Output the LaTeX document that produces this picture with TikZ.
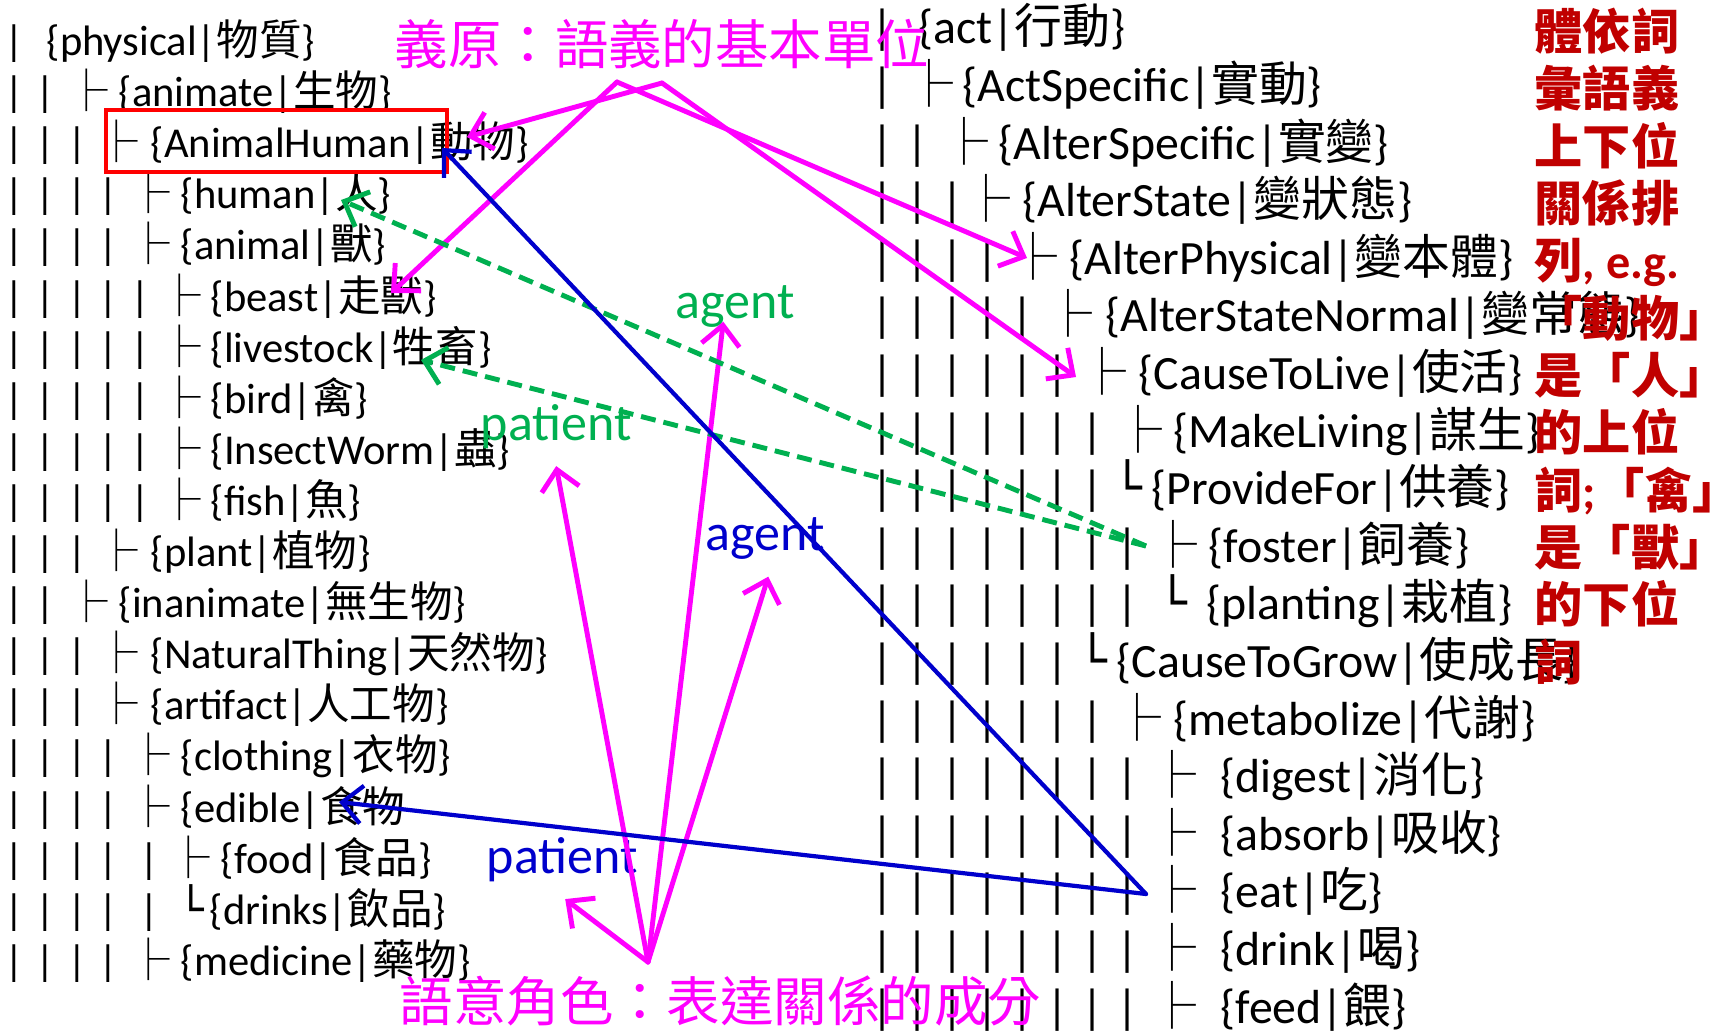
\documentclass[tikz,border=0pt]{standalone}
\usepackage{fontspec}
\setmainfont{Carlito}
\newfontfamily\cjk{Noto Sans CJK TC}
\newfontfamily\boxfont{DejaVu Sans}
\usetikzlibrary{arrows.meta,calc}
\definecolor{semmag}{HTML}{FF00FF}
\definecolor{rolegreen}{HTML}{00B050}
\definecolor{roleblue}{HTML}{0000CC}
\definecolor{notered}{HTML}{C00000}
\newcommand{\lsize}{\fontsize{12.1pt}{14pt}\selectfont}
\newcommand{\rsize}{\fontsize{13.6pt}{16pt}\selectfont}
\newcommand{\hw}[2]{\{#1|{\cjk #2}\}}
\tikzset{
  litem/.style={anchor=base west, inner sep=0pt, font=\lsize},
  ritem/.style={anchor=base west, inner sep=0pt, font=\rsize},
  lbar/.style={anchor=base, inner sep=0pt, font=\lsize},
  rbar/.style={anchor=base, inner sep=0pt, font=\rsize},
  ltee/.style={anchor=base, inner sep=0pt, font=\lsize\cjk},
  rtee/.style={anchor=base, inner sep=0pt, font=\rsize\cjk},
  lell/.style={anchor=base west, inner sep=0pt, font=\lsize\boxfont},
  rell/.style={anchor=base west, inner sep=0pt, font=\rsize\boxfont},
  roletag/.style={anchor=base west, inner sep=0pt, font=\fontsize{14.8pt}{17pt}\selectfont},
  headline/.style={anchor=base west, inner sep=0pt, text=semmag,
                   font=\fontsize{15.2pt}{18pt}\selectfont\cjk},
  semarrow/.style={draw=semmag, line width=1.4pt, line cap=round,
                   -{Straight Barb[length=2mm,width=3.8mm]}},
  bluearrow/.style={draw=roleblue, line width=1.2pt, line cap=round,
                    -{Straight Barb[length=2mm,width=3.8mm]}},
  greenarrow/.style={draw=rolegreen, line width=1.4pt, dash pattern=on 1.5mm off 0.8mm,
                     -{Straight Barb[length=2mm,width=3.8mm]}},
}
\begin{document}
\begin{tikzpicture}[x=0.01cm, y=-0.01cm]
  \useasboundingbox (0,0) rectangle (1720,1033);

  % left tree: entities
  \foreach \y/\n in {55/1,106/2,157/3,208/4,259/4,311/5,362/5,413/5,464/5,515/5,566/3,617/2,668/3,719/3,770/4,822/4,975/4}
    \foreach \k in {1,...,\n}
      \node[lbar] (lb-\y-\k) at ({14+31.5*(\k-1)},\y) {|};
  \foreach \y in {873,924}
    \foreach \x [count=\k] in {14,45.5,77,108.5,149}
      \node[lbar] (lb-\y-\k) at (\x,\y) {|};
  \foreach \y/\x in {106/87,157/117,208/149,259/149,311/180,362/180,413/180,464/180,515/180,566/117,617/87,668/117,719/117,770/149,822/149,873/189,975/149}
    \node[ltee] (lt-\y) at (\x,\y) {├};
  \node[lell] (le-924) at (178,924) {└};

  \node[litem] (physical)     at (46,55)   {\hw{physical}{物質}};
  \node[litem] (animate)      at (118,106) {\hw{animate}{生物}};
  \node[litem] (animalhuman)  at (150,157) {\hw{AnimalHuman}{動物}};
  \node[litem] (human)        at (180,208) {\hw{human}{人}};
  \node[litem] (animal)       at (180,259) {\hw{animal}{獸}};
  \node[litem] (beast)        at (210,311) {\hw{beast}{走獸}};
  \node[litem] (livestock)    at (210,362) {\hw{livestock}{牲畜}};
  \node[litem] (bird)         at (210,413) {\hw{bird}{禽}};
  \node[litem] (insectworm)   at (210,464) {\hw{InsectWorm}{蟲}};
  \node[litem] (fish)         at (210,515) {\hw{fish}{魚}};
  \node[litem] (plant)        at (150,566) {\hw{plant}{植物}};
  \node[litem] (inanimate)    at (118,617) {\hw{inanimate}{無生物}};
  \node[litem] (naturalthing) at (150,668) {\hw{NaturalThing}{天然物}};
  \node[litem] (artifact)     at (150,719) {\hw{artifact}{人工物}};
  \node[litem] (clothing)     at (180,770) {\hw{clothing}{衣物}};
  \node[litem] (edible)       at (180,822) {\{edible|{\cjk 食物}};
  \node[litem] (food)         at (220,873) {\hw{food}{食品}};
  \node[litem] (drinks)       at (209,924) {\hw{drinks}{飲品}};
  \node[litem] (medicine)     at (180,975) {\hw{medicine}{藥物}};

  % right tree: events
  \foreach \y/\n in {43/1,101/1,159/2,216/3,274/4,331/5,389/6,447/7,504/7,562/8,619/8,677/6,735/7,792/8,850/8,907/8,965/8,1023/8}
    \foreach \k in {1,...,\n}
      \node[rbar] (rb-\y-\k) at ({883+35*(\k-1)},\y) {|};
  \foreach \y/\x in {101/929,159/964,216/986,274/1033,331/1068,389/1102,447/1138,562/1173,735/1137,792/1172,850/1172,907/1172,965/1172,1023/1172}
    \node[rtee] (rt-\y) at (\x,\y) {├};
  \foreach \y/\x in {504/1113,619/1158,677/1078}
    \node[rell] (re-\y) at (\x,\y) {└};

  \node[ritem] (act)              at (918,43)   {\hw{act}{行動}};
  \node[ritem] (actspecific)      at (962,101)  {\hw{ActSpecific}{實動}};
  \node[ritem] (alterspecific)    at (998,159)  {\hw{AlterSpecific}{實變}};
  \node[ritem] (alterstate)       at (1022,216) {\hw{AlterState}{變狀態}};
  \node[ritem] (alterphysical)    at (1069,274) {\hw{AlterPhysical}{變本體}};
  \node[ritem] (alterstatenormal) at (1105,331) {\hw{AlterStateNormal}{變常態}};
  \node[ritem] (causetolive)      at (1138,389) {\hw{CauseToLive}{使活}};
  \node[ritem] (makeliving)       at (1173,447) {\hw{MakeLiving}{謀生}};
  \node[ritem] (providefor)       at (1151,504) {\hw{ProvideFor}{供養}};
  \node[ritem] (foster)           at (1208,562) {\hw{foster}{飼養}};
  \node[ritem] (planting)         at (1206,619) {\hw{planting}{栽植}};
  \node[ritem] (causetogrow)      at (1116,677) {\hw{CauseToGrow}{使成長}};
  \node[ritem] (metabolize)       at (1173,735) {\hw{metabolize}{代謝}};
  \node[ritem] (digest)           at (1220,792) {\hw{digest}{消化}};
  \node[ritem] (absorb)           at (1220,850) {\hw{absorb}{吸收}};
  \node[ritem] (eat)              at (1220,907) {\hw{eat}{吃}};
  \node[ritem] (drink)            at (1220,965) {\hw{drink}{喝}};
  \node[ritem] (feed)             at (1220,1023) {\hw{feed}{餵}};

  \draw[red, line width=1.3pt] (106,110) rectangle (447,172);

  % headings and role tags
  \node[headline] (semhead)  at (394,64)   {義原：語義的基本單位};
  \node[headline] (rolehead) at (399,1021) {語意角色：表達關係的成分};
  \node[roletag, text=rolegreen] (gagent)   at (675,318) {agent};
  \node[roletag, text=rolegreen] (gpatient) at (480,440) {patient};
  \node[roletag, text=roleblue]  (bagent)   at (705,550) {agent};
  \node[roletag, text=roleblue]  (bpatient) at (486,873) {patient};

  % arrow ends
  \coordinate (apexL)    at (617,82);
  \coordinate (apexR)    at (662,83);
  \coordinate (roleapex) at (648,962);
  \coordinate (eatpt)    at (1146,894);
  \coordinate (fosterpt) at (1146,546);
  \coordinate (tipAH)    at (467,137);
  \coordinate (tipBeast) at (391,293);
  \coordinate (tipAP)    at (1027,258);
  \coordinate (tipCTL)   at (1076,377);
  \coordinate (tipHuman) at (341,200);
  \coordinate (tipLive)  at (421,360);
  \coordinate (tipAHb)   at (442,148);
  \coordinate (tipEdible) at (339,802);

  \draw[semarrow] (apexL) -- (tipBeast);
  \draw[semarrow] (apexL) -- (tipAP);
  \draw[semarrow] (apexR) -- (tipAH);
  \draw[semarrow] (apexR) -- (tipCTL);
  \draw[semarrow] (roleapex) -- ($(gpatient.south)+(0,17)$);
  \draw[semarrow] (roleapex) -- ($(gagent.south)+(-12,-6)$);
  \draw[semarrow] (roleapex) -- ($(bagent.south)+(3,17)$);
  \draw[semarrow] (roleapex) -- ($(bpatient.south)+(3,17)$);
  \draw[greenarrow] (fosterpt) -- (tipHuman);
  \draw[greenarrow] (fosterpt) -- (tipLive);
  \draw[bluearrow] (eatpt) -- (tipAHb);
  \draw[bluearrow] (eatpt) -- (tipEdible);

  % note
  \node[anchor=base west, inner sep=0pt, align=left, text=notered,
        font=\fontsize{13.7pt}{16.3pt}\selectfont\cjk\bfseries] (note) at (1534,680)
    {體依詞\\彙語義\\上下位\\關係排\\列{\rmfamily\bfseries, e.g.}\\「動物」\\是「人」\\的上位\\詞{\rmfamily\bfseries;}「禽」\\是「獸」\\的下位\\詞};
\end{tikzpicture}
\end{document}
